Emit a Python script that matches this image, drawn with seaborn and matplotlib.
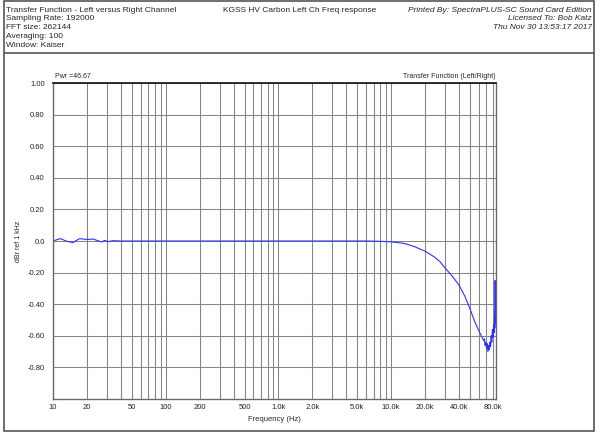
import matplotlib
matplotlib.use("Agg")
import matplotlib.pyplot as plt
from matplotlib.lines import Line2D
from matplotlib.patches import Rectangle
import seaborn as sns
import pandas as pd

# Transfer function (Hz, dBr ref 1 kHz)
freq_hz = [10, 11, 11.7, 13, 15, 17.2, 19.8, 22.7, 25, 27, 28.7, 30.8, 34, 40,
           60, 100, 300, 1000, 3000, 6000, 8000, 10000, 13000, 16000, 20000,
           24000, 27000, 30000, 35000, 40000, 45000, 50000, 55000, 60000,
           63000, 66000, 67000, 68000, 69000, 70000, 71000, 72000, 73000,
           74000, 75000, 76000, 77000, 78000, 79000, 80000, 81000, 82000,
           82500, 83000, 83500, 84000, 84500]
dbr = [0.0, 0.01, 0.015, 0.0, -0.01, 0.015, 0.01, 0.012, 0.002, -0.006, 0.004,
       -0.004, 0.002, 0.0, 0.0, 0.0, 0.0, 0.0, 0.0, 0.0, -0.002, -0.005,
       -0.015, -0.035, -0.065, -0.1, -0.13, -0.17, -0.225, -0.28, -0.35,
       -0.43, -0.51, -0.57, -0.6, -0.63, -0.62, -0.66, -0.64, -0.68, -0.65,
       -0.7, -0.66, -0.69, -0.64, -0.67, -0.6, -0.64, -0.56, -0.61, -0.53,
       -0.58, -0.47, -0.55, -0.25, -0.52, -0.3]

x_ticks = [10, 20, 50, 100, 200, 500, 1000, 2000, 5000, 10000, 20000, 40000, 80000]
x_labels = ["10", "20", "50", "100", "200", "500", "1.0k", "2.0k", "5.0k",
            "10.0k", "20.0k", "40.0k", "80.0k"]
y_ticks = [-0.8, -0.6, -0.4, -0.2, 0.0, 0.2, 0.4, 0.6, 0.8, 1.0]
y_labels = ["-0.80", "-0.60", "-0.40", "-0.20", "0.0", "0.20", "0.40", "0.60",
            "0.80", "1.00"]

header_left = ["Transfer Function - Left versus Right Channel", "Sampling Rate: 192000",
               "FFT size: 262144", "Averaging: 100", "Window: Kaiser"]
header_right = ["Printed By: SpectraPLUS-SC Sound Card Edition",
                "Licensed To: Bob Katz", "Thu Nov 30 13:53:17 2017"]

sns.set_style("white")
plt.rcParams["font.family"] = ["Liberation Sans", "DejaVu Sans"]

fig = plt.figure(figsize=(6, 4.36), dpi=100)
ax = fig.add_axes([53 / 600, 1 - 399 / 436, 443 / 600, 316 / 436])

df = pd.DataFrame({"freq": freq_hz, "dbr": dbr})
sns.lineplot(data=df, x="freq", y="dbr", ax=ax, color="#2f2fff", lw=0.8,
             sort=False, estimator=None)

ax.set_xscale("log")
ax.set_xlim(10, 85000)
ax.set_ylim(-1.0, 1.0)

# grid: every 1..9 multiple on x, every 0.2 on y
grid_x = [m * 10 ** d for d in range(1, 5) for m in range(1, 10)] + [80000]
for gx in grid_x:
    if 10 < gx < 85000:
        ax.axvline(gx, color="#858585", lw=0.75, zorder=0)
for gy in y_ticks:
    ax.axhline(gy, color="#858585", lw=0.75, zorder=0)

ax.set_xticks(x_ticks)
ax.set_xticklabels(x_labels)
ax.set_xticks([], minor=True)
ax.set_yticks(y_ticks)
ax.set_yticklabels(y_labels)
ax.tick_params(axis="y", length=0, labelsize=5.5, pad=6, colors="#222222")
ax.tick_params(axis="x", length=0, labelsize=5.5, pad=3.5, colors="#222222")

ax.set_xlabel("Frequency (Hz)", fontsize=5.5, labelpad=4)
ax.set_ylabel("dBr ref 1 kHz", fontsize=5, labelpad=4)

for side in ["left", "bottom", "right"]:
    ax.spines[side].set_color("#6a6a6a")
    ax.spines[side].set_linewidth(1.0)
ax.spines["top"].set_color("#111111")
ax.spines["top"].set_linewidth(1.2)

ax.text(0.005, 1.008, "Pwr =46.67", transform=ax.transAxes, fontsize=5,
        ha="left", va="bottom")
ax.text(1.0, 1.008, "Transfer Function (Left/Right)", transform=ax.transAxes,
        fontsize=5, ha="right", va="bottom")

# page frame and header
fig.add_artist(Rectangle((4 / 600, 1 - 431 / 436), 590 / 600, 430 / 436,
                         transform=fig.transFigure, fill=False,
                         edgecolor="#555555", lw=1.2))
fig.add_artist(Line2D([4 / 600, 594 / 600], [1 - 53 / 436, 1 - 53 / 436],
                      transform=fig.transFigure, color="#555555", lw=1.2))

for i, line in enumerate(header_left):
    fig.text(6.5 / 600, 1 - (10 + 8.8 * i) / 436, line, fontsize=6,
             ha="left", va="center")
fig.text(300 / 600, 1 - 10 / 436, "KGSS HV Carbon Left Ch Freq response",
         fontsize=6, ha="center", va="center")
for i, line in enumerate(header_right):
    fig.text(592 / 600, 1 - (10 + 8.8 * i) / 436, line, fontsize=6,
             ha="right", va="center", style="italic")

fig.savefig("out.png", dpi=100)
